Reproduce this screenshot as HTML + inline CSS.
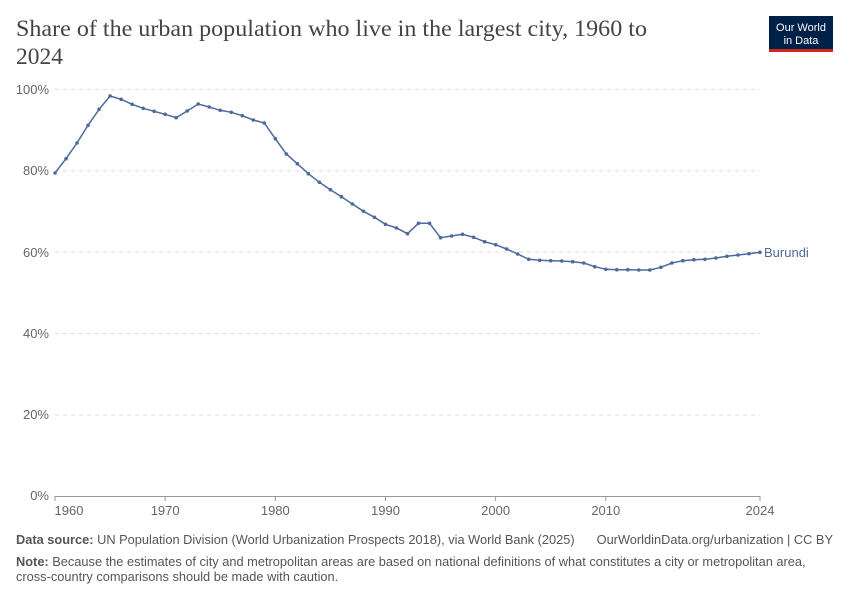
<!DOCTYPE html>
<html><head><meta charset="utf-8"><style>
body{margin:0;background:#fff;width:850px;height:600px;overflow:hidden;font-family:"Liberation Sans",sans-serif;}
</style></head><body>
<svg id="s" width="850" height="600" xmlns="http://www.w3.org/2000/svg" style="position:absolute;left:0;top:0">
<text x="16" y="36" font-family="Liberation Serif,serif" font-size="23.5" fill="#444" textLength="631" lengthAdjust="spacingAndGlyphs">Share of the urban population who live in the largest city, 1960 to</text>
<text x="16" y="64" font-family="Liberation Serif,serif" font-size="23.5" fill="#444">2024</text>
<rect x="769" y="16" width="64" height="36" fill="#002147"/>
<rect x="769" y="49" width="64" height="3" fill="#ce261e"/>
<text x="801" y="31" text-anchor="middle" font-size="11" fill="#fff">Our World</text>
<text x="801" y="44" text-anchor="middle" font-size="11" fill="#fff">in Data</text>
<g stroke="#ddd" stroke-dasharray="4,4" stroke-width="1">
<line x1="55" x2="760" y1="89.5" y2="89.5"/><line x1="55" x2="760" y1="171" y2="171"/><line x1="55" x2="760" y1="252" y2="252"/><line x1="55" x2="760" y1="333.5" y2="333.5"/><line x1="55" x2="760" y1="415" y2="415"/>
</g>
<line x1="55" x2="760" y1="496.5" y2="496.5" stroke="#999"/>
<g font-size="13" fill="#666" text-anchor="end">
<text x="49" y="94">100%</text><text x="49" y="175">80%</text><text x="49" y="257">60%</text><text x="49" y="338">40%</text><text x="49" y="419">20%</text><text x="49" y="500">0%</text>
</g>
<g font-size="13" fill="#666" text-anchor="middle" id="xt"></g>
<g id="d"></g>
<text x="764" y="257" font-size="13" fill="#4c6a9c">Burundi</text>
<text x="16" y="544" font-size="12.8" fill="#555"><tspan font-weight="bold">Data source:</tspan> UN Population Division (World Urbanization Prospects 2018), via World Bank (2025)</text>
<text x="833" y="544" font-size="12.8" fill="#555" text-anchor="end">OurWorldinData.org/urbanization | CC BY</text>
<text x="16" y="566" font-size="12.8" fill="#555"><tspan font-weight="bold">Note:</tspan> Because the estimates of city and metropolitan areas are based on national definitions of what constitutes a city or metropolitan area,</text>
<text x="16" y="581" font-size="12.8" fill="#555">cross-country comparisons should be made with caution.</text>
</svg>
<script>
var ys=[173,158.7,143,125.3,109.3,96,99.3,104.3,108.3,111.3,114.3,117.7,111,104,107,110.3,112.3,115.7,120,123,138.7,154,163.7,173.7,182.3,189.7,196.7,204,211.3,217.3,224.3,228,233.7,223.3,223.3,237.7,236,234.3,237.3,241.7,244.7,249,254,259.3,260.3,260.7,261,261.7,263,266.7,269.3,269.7,269.7,270,270,267.3,263,260.7,259.7,259.3,258,256.3,255,253.7,252.3];
var ns="http://www.w3.org/2000/svg",d=document.getElementById('d'),pts=[];
ys.forEach(function(y,i){var x=55+i*705/64;pts.push(x.toFixed(1)+","+y);var c=document.createElementNS(ns,'circle');c.setAttribute('cx',x);c.setAttribute('cy',y);c.setAttribute('r',1.8);c.setAttribute('fill','#4c6a9c');d.appendChild(c);});
var p=document.createElementNS(ns,'polyline');p.setAttribute('points',pts.join(' '));p.setAttribute('fill','none');p.setAttribute('stroke','#4c6a9c');p.setAttribute('stroke-width','1.5');d.insertBefore(p,d.firstChild);
var xt=document.getElementById('xt');
[1960,1970,1980,1990,2000,2010,2024].forEach(function(yr){var x=55+(yr-1960)*705/64;var t=document.createElementNS(ns,'text');t.setAttribute('x',x+(yr==1960?14:0));t.setAttribute('y',515);t.textContent=yr;xt.appendChild(t);var l=document.createElementNS(ns,'line');l.setAttribute('x1',x);l.setAttribute('x2',x);l.setAttribute('y1',496);l.setAttribute('y2',501);l.setAttribute('stroke','#999');xt.appendChild(l);});
</script>
</body></html>
